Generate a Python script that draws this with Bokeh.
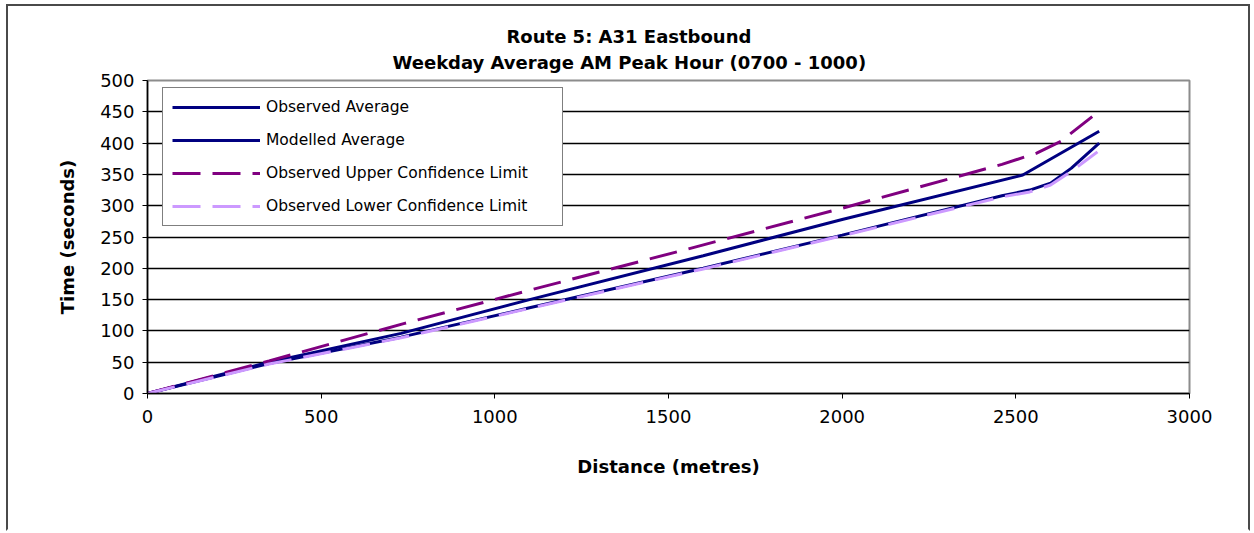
from bokeh.plotting import figure
from bokeh.models import Title, Legend, LegendItem, FixedTicker, Range1d
from bokeh.embed import file_html
from bokeh.resources import INLINE

# ---- data ----
obs_distance = [0, 350, 730, 1100, 1600, 2000, 2520, 2740]
obs_time = [0, 50, 96, 150, 220, 278, 349, 419]

mod_distance = [0, 350, 730, 1100, 1600, 2000, 2460, 2540, 2600, 2660, 2700, 2740]
mod_time = [0, 48, 90, 137, 200, 253, 316, 325, 336, 360, 380, 400]

ucl_distance = [0, 350, 740, 1100, 1550, 2000, 2460, 2560, 2630, 2740]
ucl_time = [0, 52, 112, 165, 230, 296, 366, 384, 403, 451]

lcl_distance = [0, 350, 730, 1100, 1600, 2000, 2460, 2540, 2600, 2660, 2735]
lcl_time = [0, 47, 89, 136, 199, 252, 314, 322, 333, 355, 386]

x_ticks = [0, 500, 1000, 1500, 2000, 2500, 3000]
y_ticks = [0, 50, 100, 150, 200, 250, 300, 350, 400, 450, 500]

title_line1 = "Route 5: A31 Eastbound"
title_line2 = "Weekday Average AM  Peak Hour (0700 - 1000)"

FONT = "DejaVu Sans"

p = figure(
    frame_width=1042, frame_height=313,
    min_border_left=139, min_border_right=59,
    min_border_top=74, min_border_bottom=136,
    x_range=Range1d(0, 3000), y_range=Range1d(0, 500),
    output_backend="svg", toolbar_location=None,
    background_fill_color="white", border_fill_color="white",
)
p.styles = {
    "border-top": "2px solid #4a4a4a",
    "border-left": "2px solid #4a4a4a",
    "border-right": "2px solid #4a4a4a",
    "border-bottom": "2px solid white",
    "margin-left": "6px",
    "margin-top": "4px",
}
p.outline_line_color = "#8c8c8c"
p.outline_line_width = 2

# titles
t2 = Title(text=title_line2, align="left", text_font=FONT, text_font_size="18px",
           text_font_style="bold", text_color="black", offset=245, standoff=15)
t1 = Title(text=title_line1, align="left", text_font=FONT, text_font_size="18px",
           text_font_style="bold", text_color="black", offset=359, standoff=-8)
p.add_layout(t2, "above")
p.add_layout(t1, "above")

# axes
for ax in (p.xaxis, p.yaxis):
    ax.axis_line_color = "black"
    ax.axis_line_width = 1.5
    ax.major_tick_line_color = "black"
    ax.major_tick_out = 5
    ax.major_tick_in = 0
    ax.minor_tick_line_color = None
    ax.major_label_text_font = FONT
    ax.major_label_text_font_size = "18px"
    ax.major_label_text_color = "black"
    ax.axis_label_text_font = FONT
    ax.axis_label_text_font_size = "18px"
    ax.axis_label_text_font_style = "bold"
    ax.axis_label_text_color = "black"

p.xaxis.ticker = FixedTicker(ticks=x_ticks)
p.yaxis.ticker = FixedTicker(ticks=y_ticks)
p.xaxis.axis_label = "Distance (metres)"
p.yaxis.axis_label = "Time (seconds)"
p.xaxis.major_label_standoff = 11
p.xaxis.axis_label_standoff = 30
p.yaxis.major_label_standoff = 8
p.yaxis.axis_label_standoff = 19

p.xgrid.grid_line_color = None
p.ygrid.grid_line_color = "black"
p.ygrid.grid_line_width = 1.5

# lines
r_obs = p.line(obs_distance, obs_time, line_color="#000080", line_width=3)
r_mod = p.line(mod_distance, mod_time, line_color="#000080", line_width=3)
r_ucl = p.line(ucl_distance, ucl_time, line_color="#800080", line_width=3, line_dash="28 12")
r_lcl = p.line(lcl_distance, lcl_time, line_color="#CC99FF", line_width=3, line_dash="28 12")

legend = Legend(
    items=[
        LegendItem(label="Observed Average", renderers=[r_obs]),
        LegendItem(label="Modelled Average", renderers=[r_mod]),
        LegendItem(label="Observed Upper Confidence Limit", renderers=[r_ucl]),
        LegendItem(label="Observed Lower Confidence Limit", renderers=[r_lcl]),
    ],
    location=(15, 167),
    margin=0, padding=9, spacing=13,
    glyph_width=88, glyph_height=20, label_height=20, label_width=287,
    label_text_font=FONT, label_text_font_size="15.5px", label_text_color="black",
    label_standoff=6,
    border_line_color="black", border_line_width=1.5,
    background_fill_color="white", background_fill_alpha=1,
)
p.add_layout(legend, "center")

open("out.html", "w").write(file_html(p, INLINE))
